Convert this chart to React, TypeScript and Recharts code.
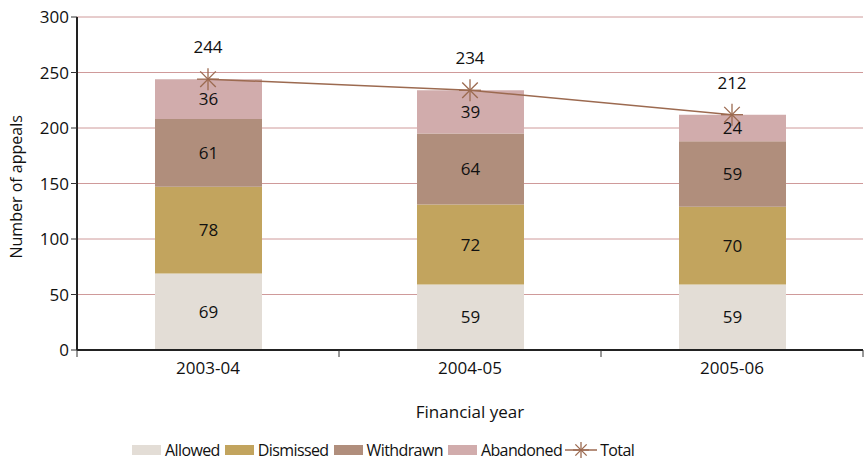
import { ComposedChart, Bar, Line, XAxis, YAxis, CartesianGrid, Legend, LabelList } from "recharts";

const years = ["2003-04", "2004-05", "2005-06"];
const allowed = [69, 59, 59];
const dismissed = [78, 72, 70];
const withdrawn = [61, 64, 59];
const abandoned = [36, 39, 24];
const totals = [244, 234, 212];
const yTicks = [0, 50, 100, 150, 200, 250, 300];

const COLORS = {
  allowed: "#e3ddd6",
  dismissed: "#c2a45e",
  withdrawn: "#b08e7c",
  abandoned: "#d1acac",
  total: "#9c6a50",
};

const FONT = "'Open Sans', sans-serif";

const data = years.map((year, i) => ({
  year,
  allowed: allowed[i],
  dismissed: dismissed[i],
  withdrawn: withdrawn[i],
  abandoned: abandoned[i],
  total: totals[i],
}));

function Star({ cx, cy, color, r = 11 }: { cx: number; cy: number; color: string; r?: number }) {
  const arms = [0, 45, 90, 135].map((a) => {
    const rad = (a * Math.PI) / 180;
    const dx = Math.cos(rad) * r;
    const dy = Math.sin(rad) * r;
    return <line key={a} x1={cx - dx} y1={cy - dy} x2={cx + dx} y2={cy + dy} stroke={color} strokeWidth={1.3} />;
  });
  return <g>{arms}</g>;
}

function TotalDot(props: any) {
  const { cx, cy } = props;
  if (cx == null || cy == null) return null;
  return <Star cx={cx} cy={cy} color={COLORS.total} />;
}

function XTick(props: any) {
  const { x, y, payload, index } = props;
  const half = 131;
  return (
    <g>
      {index === 0 && <line x1={x - half} y1={y - 8} x2={x - half} y2={y - 1} stroke="#333" strokeWidth={1} />}
      <line x1={x + half} y1={y - 8} x2={x + half} y2={y - 1} stroke="#333" strokeWidth={1} />
      <text x={x} y={y + 16} textAnchor="middle" fontSize={17} fontFamily={FONT} fill="#111">
        {payload.value}
      </text>
    </g>
  );
}

const legendItems = [
  { label: "Allowed", color: COLORS.allowed, type: "rect" },
  { label: "Dismissed", color: COLORS.dismissed, type: "rect" },
  { label: "Withdrawn", color: COLORS.withdrawn, type: "rect" },
  { label: "Abandoned", color: COLORS.abandoned, type: "rect" },
  { label: "Total", color: COLORS.total, type: "line" },
];

function LegendContent() {
  return (
    <div
      style={{
        display: "flex",
        justifyContent: "flex-start",
        alignItems: "center",
        paddingTop: 17,
        paddingLeft: 130,
        fontFamily: FONT,
        fontSize: 16,
        color: "#111",
        letterSpacing: -0.6,
      }}
    >
      {legendItems.map((it) => (
        <div key={it.label} style={{ display: "flex", alignItems: "center", marginRight: 3 }}>
          <svg width={32} height={16} style={{ marginRight: 3 }}>
            {it.type === "rect" ? (
              <rect x={2} y={3} width={29} height={10} fill={it.color} />
            ) : (
              <g>
                <line x1={0} y1={8} x2={32} y2={8} stroke={it.color} strokeWidth={1.5} />
                <Star cx={16} cy={8} color={it.color} r={8} />
              </g>
            )}
          </svg>
          <span>{it.label}</span>
        </div>
      ))}
    </div>
  );
}

export default function App() {
  return (
    <div style={{ position: "absolute", left: 0, top: 0, width: 864, height: 461, background: "#fff" }}>
      <ComposedChart width={864} height={461} data={data} margin={{ top: 17, right: 1, left: 0, bottom: 0 }}>
        <CartesianGrid vertical={false} stroke="#cf9a9a" strokeWidth={1} />
        <XAxis
          dataKey="year"
          tick={<XTick />}
          tickLine={false}
          axisLine={{ stroke: "#222", strokeWidth: 2 }}
          height={72}
          interval={0}
          label={{ value: "Financial year", position: "insideBottom", offset: 4, fontSize: 17, fontFamily: FONT, fill: "#111" }}
        />
        <YAxis
          domain={[0, 300]}
          ticks={yTicks}
          width={77}
          tick={{ fontSize: 17, fontFamily: FONT, fill: "#111" }}
          tickLine={{ stroke: "#333" }}
          tickSize={6}
          axisLine={{ stroke: "#222", strokeWidth: 2 }}
          label={{ value: "Number of appeals", angle: -90, position: "insideLeft", offset: 16, dy: 75, fontSize: 16, fontFamily: FONT, fill: "#111" }}
        />
        <Legend verticalAlign="bottom" height={39} content={<LegendContent />} />
        <Bar dataKey="allowed" name="Allowed" stackId="a" fill={COLORS.allowed} barSize={107} isAnimationActive={false}>
          <LabelList dataKey="allowed" position="center" fontSize={17} fontFamily={FONT} fill="#111" />
        </Bar>
        <Bar dataKey="dismissed" name="Dismissed" stackId="a" fill={COLORS.dismissed} barSize={107} isAnimationActive={false}>
          <LabelList dataKey="dismissed" position="center" fontSize={17} fontFamily={FONT} fill="#111" />
        </Bar>
        <Bar dataKey="withdrawn" name="Withdrawn" stackId="a" fill={COLORS.withdrawn} barSize={107} isAnimationActive={false}>
          <LabelList dataKey="withdrawn" position="center" fontSize={17} fontFamily={FONT} fill="#111" />
        </Bar>
        <Bar dataKey="abandoned" name="Abandoned" stackId="a" fill={COLORS.abandoned} barSize={107} isAnimationActive={false}>
          <LabelList dataKey="abandoned" position="center" fontSize={17} fontFamily={FONT} fill="#111" />
        </Bar>
        <Line
          dataKey="total"
          name="Total"
          stroke={COLORS.total}
          strokeWidth={1.5}
          dot={<TotalDot />}
          activeDot={false}
          isAnimationActive={false}
        >
          <LabelList dataKey="total" position="top" offset={26} fontSize={17} fontFamily={FONT} fill="#111" />
        </Line>
      </ComposedChart>
    </div>
  );
}
